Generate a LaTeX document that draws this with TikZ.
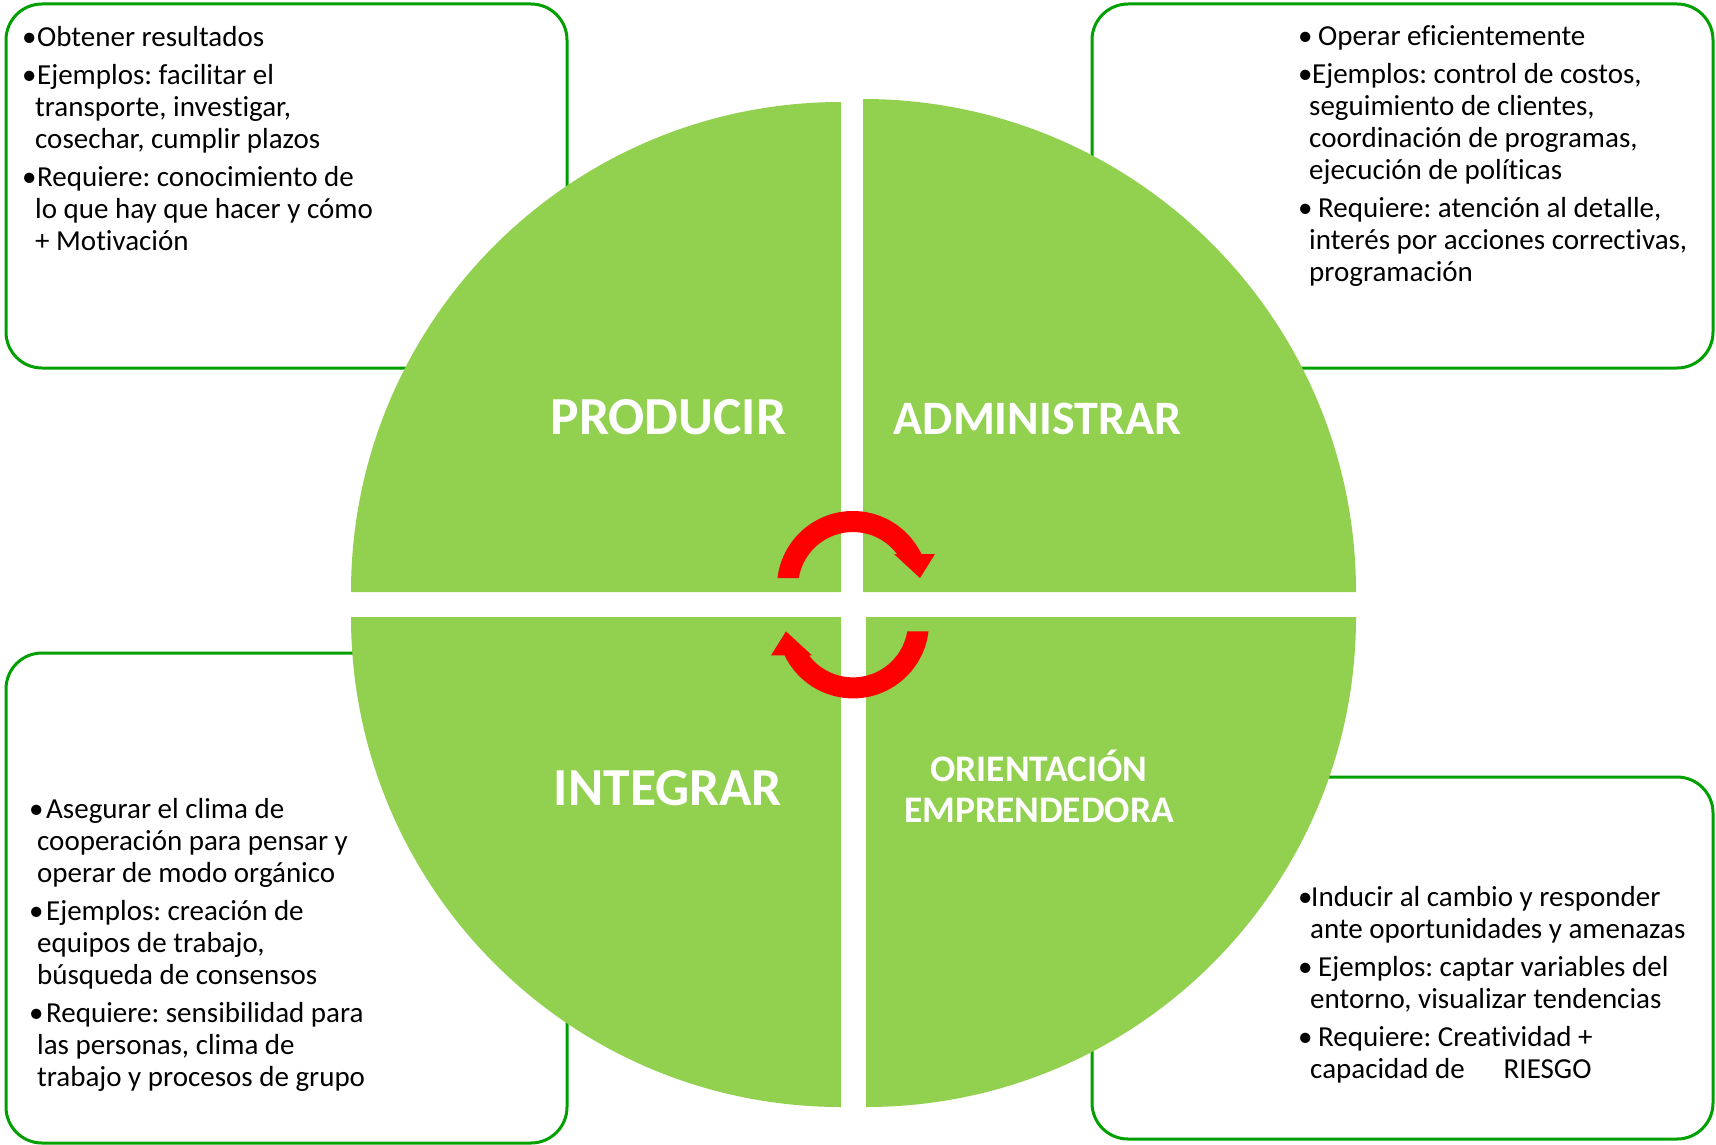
\documentclass[tikz,border=0pt]{standalone}
\usepackage{fontspec}
\setmainfont{Carlito}[RawFeature={-liga;-clig;-calt;-dlig}]
\frenchspacing
\definecolor{leafgreen}{RGB}{146,208,80}
\definecolor{boxgreen}{RGB}{0,160,0}
\definecolor{turnred}{RGB}{255,0,0}
% bullet set in a box of given width, so the text after it starts at a fixed place
\newcommand\bl[1]{\makebox[#1][l]{•}}
\newcommand\hang[1]{\hspace*{#1}}
\begin{document}
\begin{tikzpicture}[x=1pt,y=-1pt,
  infobox/.style={draw=boxgreen, line width=3pt, rounded corners=36pt, fill=white},
  quad/.style={fill=leafgreen},
  % multi-line nodes: the base anchor sits on the last line
  bodytext/.style={font=\fontsize{29}{32}\selectfont, align=left, anchor=base west, inner sep=0pt},
  bigword/.style={font=\bfseries\fontsize{53.5}{58}\selectfont, text=white, anchor=base, inner sep=0pt},
  midword/.style={font=\bfseries\fontsize{37.5}{41}\selectfont, text=white, anchor=base, align=center, inner sep=0pt},
  turn/.style={fill=turnred}]
\useasboundingbox (0,0) rectangle (1716,1145);

% outer text boxes
\path[infobox] (6,4) rectangle (567,368);
\path[infobox] (1092,4) rectangle (1713,368);
\path[infobox] (6,653) rectangle (567,1143);
\path[infobox] (1092,777) rectangle (1713,1139);

% four quadrants of the disc
\fill[quad] (841,592) -- (351,592) arc[start angle=180,end angle=270,radius=490] -- cycle;
\fill[quad] (863,592) -- (863,99) arc[start angle=270,end angle=360,radius=493] -- cycle;
\fill[quad] (866,617) -- (1356,617) arc[start angle=0,end angle=90,radius=490] -- cycle;
\fill[quad] (841,617) -- (841,1107) arc[start angle=90,end angle=180,radius=490] -- cycle;

% quadrant titles
\node[bigword] (producir) at (668.5,434) {PRODUCIR};
\node[bigword, font=\bfseries\fontsize{48}{52}\selectfont] (administrar) at (1037.5,434) {ADMINISTRAR};
\node[bigword] (integrar) at (668,805) {INTEGRAR};
\node[midword] (orientacion) at (1039,822) {ORIENTACIÓN\\EMPRENDEDORA};

% circular arrows in the middle
\coordinate (hub) at (853,604.7);
\foreach \ang in {0,180}{
  \fill[turn, shift={(hub)}, rotate=\ang]
    (-75.5,-26.7) arc[start angle=186.8, end angle=334.3, radius=76]
    -- (82,-50.7) -- (67,-26.7) -- (41,-50.7) -- (44,-50.7)
    arc[start angle=323.1, end angle=189.4, radius=55] -- cycle;
}

% box texts
\node[bodytext] (producir-text) at (22,250) {%
  \bl{15pt}Obtener resultados\\[6pt]
  \bl{15pt}Ejemplos: facilitar el\\
  \hang{13pt}transporte, investigar,\\
  \hang{13pt}cosechar, cumplir plazos\\[6pt]
  \bl{15pt}Requiere: conocimiento de\\
  \hang{13pt}lo que hay que hacer y cómo\\
  \hang{13pt}+ Motivación};

\node[bodytext] (administrar-text) at (1298,281) {%
  \bl{20pt}Operar eficientemente\\[6pt]
  \bl{14pt}Ejemplos: control de costos,\\
  \hang{11pt}seguimiento de clientes,\\
  \hang{11pt}coordinación de programas,\\
  \hang{11pt}ejecución de políticas\\[6pt]
  \bl{20pt}Requiere: atención al detalle,\\
  \hang{11pt}interés por acciones correctivas,\\
  \hang{11pt}programación};

\node[bodytext] (integrar-text) at (29,1086) {%
  \bl{17pt}Asegurar el clima de\\
  \hang{8pt}cooperación para pensar y\\
  \hang{8pt}operar de modo orgánico\\[6pt]
  \bl{17pt}Ejemplos: creación de\\
  \hang{8pt}equipos de trabajo,\\
  \hang{8pt}búsqueda de consensos\\[6pt]
  \bl{17pt}Requiere: sensibilidad para\\
  \hang{8pt}las personas, clima de\\
  \hang{8pt}trabajo y procesos de grupo};

\node[bodytext] (orientacion-text) at (1298,1078) {%
  \bl{13pt}Inducir al cambio y responder\\
  \hang{12pt}ante oportunidades y amenazas\\[6pt]
  \bl{20pt}Ejemplos: captar variables del\\
  \hang{12pt}entorno, visualizar tendencias\\[6pt]
  \bl{20pt}Requiere: Creatividad +\\
  \hang{12pt}capacidad de\hspace*{39pt}RIESGO};
\end{tikzpicture}
\end{document}
